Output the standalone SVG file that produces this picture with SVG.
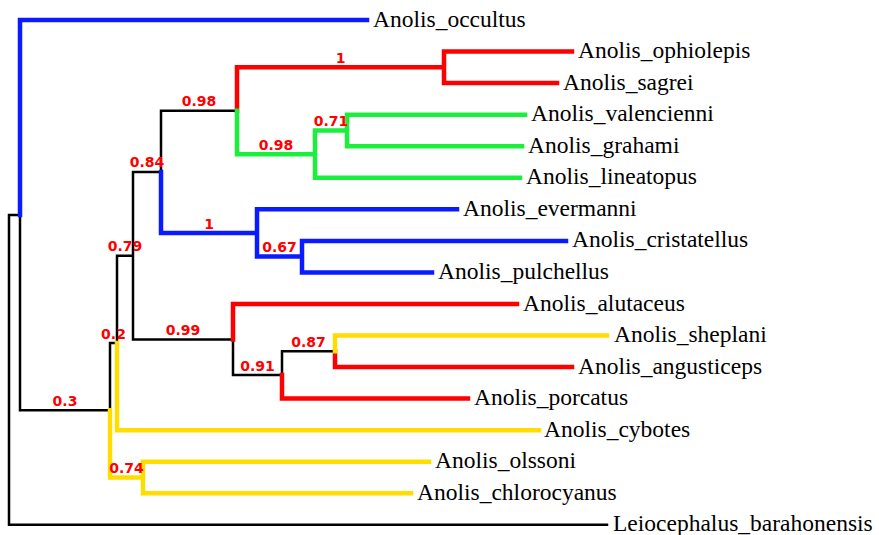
<svg xmlns="http://www.w3.org/2000/svg" width="879" height="535" viewBox="0 0 879 535">
<style>
.k{stroke:#000;stroke-width:2.5;fill:none;stroke-linecap:square}
.b{stroke:#0a1cff;stroke-width:4.5;fill:none;stroke-linecap:square}
.r{stroke:#ff0000;stroke-width:4.5;fill:none;stroke-linecap:square}
.g{stroke:#1aef3c;stroke-width:4.5;fill:none;stroke-linecap:square}
.y{stroke:#ffdd00;stroke-width:4.5;fill:none;stroke-linecap:square}
.tip{font-family:"Liberation Serif","Times New Roman",serif;font-size:23.5px;fill:#000}
.sup{font-family:"DejaVu Sans","Liberation Sans",sans-serif;font-size:14px;font-weight:bold;fill:#ff0000;text-anchor:middle}
</style>
<rect width="879" height="535" fill="#fff"/>
<g id="connectors">
<path class="k" d="M9,215.1V524.8M9,215.1H20M9,524.8H607M20,215.1V410.2M20,410.2H110M110,343V410.2M110,343H117M117,255.7V343M117,255.7H133M133,171.9V339.5M133,171.9H161M133,339.5H233M161,110.7V171.9M161,110.7H237M233,339.5V375M233,375H282M282,351.3V375M282,351.3H335"/>
<path class="b" d="M20,20V215.1M20,20H367M161,171.9V233H257M257,209.3V256.6M257,209.3H457M257,256.6H302M302,240.9V272.4M302,240.9H566M302,272.4H432"/>
<path class="r" d="M237,67.3V110.7M237,67.3H444M444,51.6V83.1M444,51.6H572M444,83.1H557M233,304V339.5M233,304H517M282,375V398.6H468M335,351.3V367.1H572"/>
<path class="g" d="M237,110.7V154.2H315M315,130.5V177.8M315,130.5H347M315,177.8H520M347,114.7V146.2M347,114.7H525M347,146.2H522"/>
<path class="y" d="M110,410.2V477.5H143M143,461.7V493.3M143,461.7H429M143,493.3H411M117,343V430.2H539M335,335.5V351.3M335,335.5H607"/>
</g>
<g id="support">
<text class="sup" x="340.5" y="62.8">1</text>
<text class="sup" x="199" y="106.2">0.98</text>
<text class="sup" x="276" y="149.7">0.98</text>
<text class="sup" x="331" y="126">0.71</text>
<text class="sup" x="147" y="167.4">0.84</text>
<text class="sup" x="209" y="228.5">1</text>
<text class="sup" x="279.5" y="252.1">0.67</text>
<text class="sup" x="125" y="251.2">0.79</text>
<text class="sup" x="113.5" y="338.5">0.2</text>
<text class="sup" x="183" y="335">0.99</text>
<text class="sup" x="257.5" y="370.5">0.91</text>
<text class="sup" x="308.5" y="346.8">0.87</text>
<text class="sup" x="65" y="405.7">0.3</text>
<text class="sup" x="126.5" y="473">0.74</text>
</g>
<g id="Anolis_occultus"><text class="tip" x="373" y="26.5">Anolis_occultus</text></g>
<g id="Anolis_ophiolepis"><text class="tip" x="578" y="58.1">Anolis_ophiolepis</text></g>
<g id="Anolis_sagrei"><text class="tip" x="563" y="89.6">Anolis_sagrei</text></g>
<g id="Anolis_valencienni"><text class="tip" x="531" y="121.2">Anolis_valencienni</text></g>
<g id="Anolis_grahami"><text class="tip" x="528" y="152.7">Anolis_grahami</text></g>
<g id="Anolis_lineatopus"><text class="tip" x="526" y="184.3">Anolis_lineatopus</text></g>
<g id="Anolis_evermanni"><text class="tip" x="463" y="215.8">Anolis_evermanni</text></g>
<g id="Anolis_cristatellus"><text class="tip" x="572" y="247.4">Anolis_cristatellus</text></g>
<g id="Anolis_pulchellus"><text class="tip" x="438" y="278.9">Anolis_pulchellus</text></g>
<g id="Anolis_alutaceus"><text class="tip" x="523" y="310.5">Anolis_alutaceus</text></g>
<g id="Anolis_sheplani"><text class="tip" x="614" y="342">Anolis_sheplani</text></g>
<g id="Anolis_angusticeps"><text class="tip" x="578" y="373.6">Anolis_angusticeps</text></g>
<g id="Anolis_porcatus"><text class="tip" x="474" y="405.1">Anolis_porcatus</text></g>
<g id="Anolis_cybotes"><text class="tip" x="544" y="436.7">Anolis_cybotes</text></g>
<g id="Anolis_olssoni"><text class="tip" x="435" y="468.2">Anolis_olssoni</text></g>
<g id="Anolis_chlorocyanus"><text class="tip" x="417" y="499.8">Anolis_chlorocyanus</text></g>
<g id="Leiocephalus_barahonensis"><text class="tip" x="613" y="531.3">Leiocephalus_barahonensis</text></g>
</svg>
